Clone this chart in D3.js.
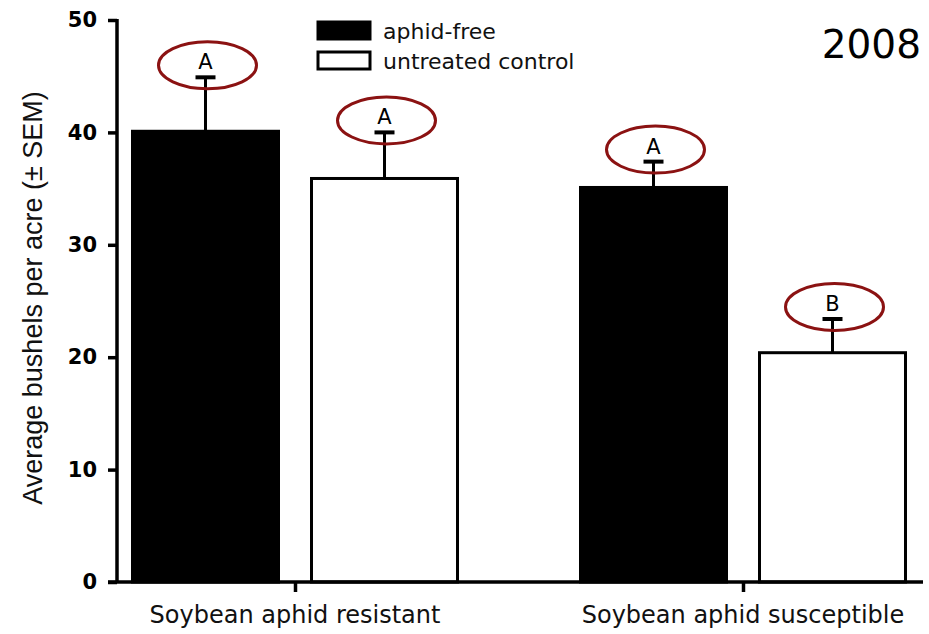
<!DOCTYPE html>
<html>
<head>
<meta charset="utf-8">
<script src="https://cdn.jsdelivr.net/npm/d3@7"></script>
<style>
  body { margin: 0; background: #fff; }
  svg { display: block; }
</style>
</head>
<body>
<svg id="chart" width="929" height="634"></svg>
<script>
// data
const categories = ['Soybean aphid resistant', 'Soybean aphid susceptible'];
const series = ['aphid-free', 'untreated control'];
const aphidFree = [40.1, 35.1];
const untreated = [35.9, 20.4];
const aphidFreeSem = [4.8, 2.3];
const untreatedSem = [4.1, 3.0];
const aphidFreeLetters = ['A', 'A'];
const untreatedLetters = ['A', 'B'];
const yTicks = [0, 10, 20, 30, 40, 50];
const yearLabel = '2008';
const yTitle = 'Average bushels per acre (± SEM)';

const fills = ['#000', '#fff'];
const ellipseColor = '#8b1212';

const svg = d3.select('#chart');

// scales
const y = d3.scaleLinear().domain([0, 50]).range([582, 20]);
const x0 = d3.scalePoint().domain(categories).range([295, 743]);
const x1 = d3.scaleBand().domain(series).range([-162.5, 162.5]).paddingInner(33 / 179);

const rows = [];
categories.forEach((c, i) => {
  rows.push({ cat: c, s: series[0], v: aphidFree[i], e: aphidFreeSem[i], l: aphidFreeLetters[i] });
  rows.push({ cat: c, s: series[1], v: untreated[i], e: untreatedSem[i], l: untreatedLetters[i] });
});
const xc = d => x0(d.cat) + x1(d.s) + x1.bandwidth() / 2;

// y axis
const yAxis = d3.axisLeft(y).tickValues(yTicks).tickSize(9).tickPadding(11).tickFormat(d3.format('d'));
const ya = svg.append('g').attr('transform', 'translate(117,0)').call(yAxis);
ya.select('.domain').attr('stroke', '#000').attr('stroke-width', 3.5).attr('d', `M0,${y(50) - 1}V${y(0)}`);
ya.selectAll('.tick line').attr('stroke', '#000').attr('stroke-width', 3.5);
ya.selectAll('.tick text')
  .attr('fill', '#000')
  .style('font-family', 'DejaVu Sans, sans-serif')
  .style('font-weight', 'bold')
  .style('font-size', '21px');

// bars
svg.append('g').selectAll('rect')
  .data(rows)
  .enter()
  .append('rect')
  .attr('x', d => x0(d.cat) + x1(d.s))
  .attr('y', d => y(d.v))
  .attr('width', x1.bandwidth())
  .attr('height', d => y(0) - y(d.v))
  .attr('fill', d => fills[series.indexOf(d.s)])
  .attr('stroke', '#000')
  .attr('stroke-width', 3);

// error bars (upper only)
const eb = svg.append('g');
eb.selectAll('line.stem')
  .data(rows)
  .enter()
  .append('line')
  .attr('class', 'stem')
  .attr('x1', xc).attr('x2', xc)
  .attr('y1', d => y(d.v))
  .attr('y2', d => y(d.v + d.e))
  .attr('stroke', '#000')
  .attr('stroke-width', 3);
eb.selectAll('line.cap')
  .data(rows)
  .enter()
  .append('line')
  .attr('class', 'cap')
  .attr('x1', d => xc(d) - 10).attr('x2', d => xc(d) + 10)
  .attr('y1', d => y(d.v + d.e))
  .attr('y2', d => y(d.v + d.e))
  .attr('stroke', '#000')
  .attr('stroke-width', 4);

// significance letters with circled ovals
const sig = svg.append('g').selectAll('g')
  .data(rows)
  .enter()
  .append('g')
  .attr('transform', d => `translate(${xc(d) + 2},${y(d.v + d.e) - 12})`);
sig.append('ellipse')
  .attr('rx', 49)
  .attr('ry', 23.5)
  .attr('fill', 'none')
  .attr('stroke', ellipseColor)
  .attr('stroke-width', 3);
sig.append('text')
  .attr('x', -2)
  .attr('y', 4)
  .attr('text-anchor', 'middle')
  .style('font-family', 'DejaVu Sans, sans-serif')
  .style('font-size', '21px')
  .attr('fill', '#000')
  .text(d => d.l);

// x axis
const xAxis = d3.axisBottom(x0).tickSize(10).tickFormat('');
const xa = svg.append('g').attr('transform', `translate(0,${y(0)})`).call(xAxis);
xa.select('.domain').attr('stroke', '#000').attr('stroke-width', 3.5).attr('d', 'M108,0H923');
xa.selectAll('.tick line').attr('stroke', '#000').attr('stroke-width', 3.5);
svg.append('g').selectAll('text')
  .data(categories)
  .enter()
  .append('text')
  .attr('x', d => x0(d))
  .attr('y', 623)
  .attr('text-anchor', 'middle')
  .style('font-family', 'DejaVu Sans, sans-serif')
  .style('font-size', '24px')
  .attr('fill', '#111')
  .text(d => d);

// y title
svg.append('text')
  .attr('transform', 'translate(42,298) rotate(-90)')
  .attr('text-anchor', 'middle')
  .style('font-family', 'Liberation Sans, Arial, sans-serif')
  .style('font-size', '27px')
  .attr('fill', '#111')
  .text(yTitle);

// legend
const legend = svg.append('g').selectAll('g')
  .data(series)
  .enter()
  .append('g')
  .attr('transform', (d, i) => `translate(318,${22 + i * 30})`);
legend.append('rect')
  .attr('width', 52)
  .attr('height', 17)
  .attr('fill', (d, i) => fills[i])
  .attr('stroke', '#000')
  .attr('stroke-width', 3);
legend.append('text')
  .attr('x', 65)
  .attr('y', 17)
  .style('font-family', 'DejaVu Sans, sans-serif')
  .style('font-size', '22px')
  .attr('fill', '#111')
  .text(d => d);

// year
svg.append('text')
  .attr('x', 921)
  .attr('y', 58)
  .attr('text-anchor', 'end')
  .style('font-family', 'DejaVu Sans, sans-serif')
  .style('font-size', '39px')
  .attr('fill', '#000')
  .text(yearLabel);
</script>
</body>
</html>
